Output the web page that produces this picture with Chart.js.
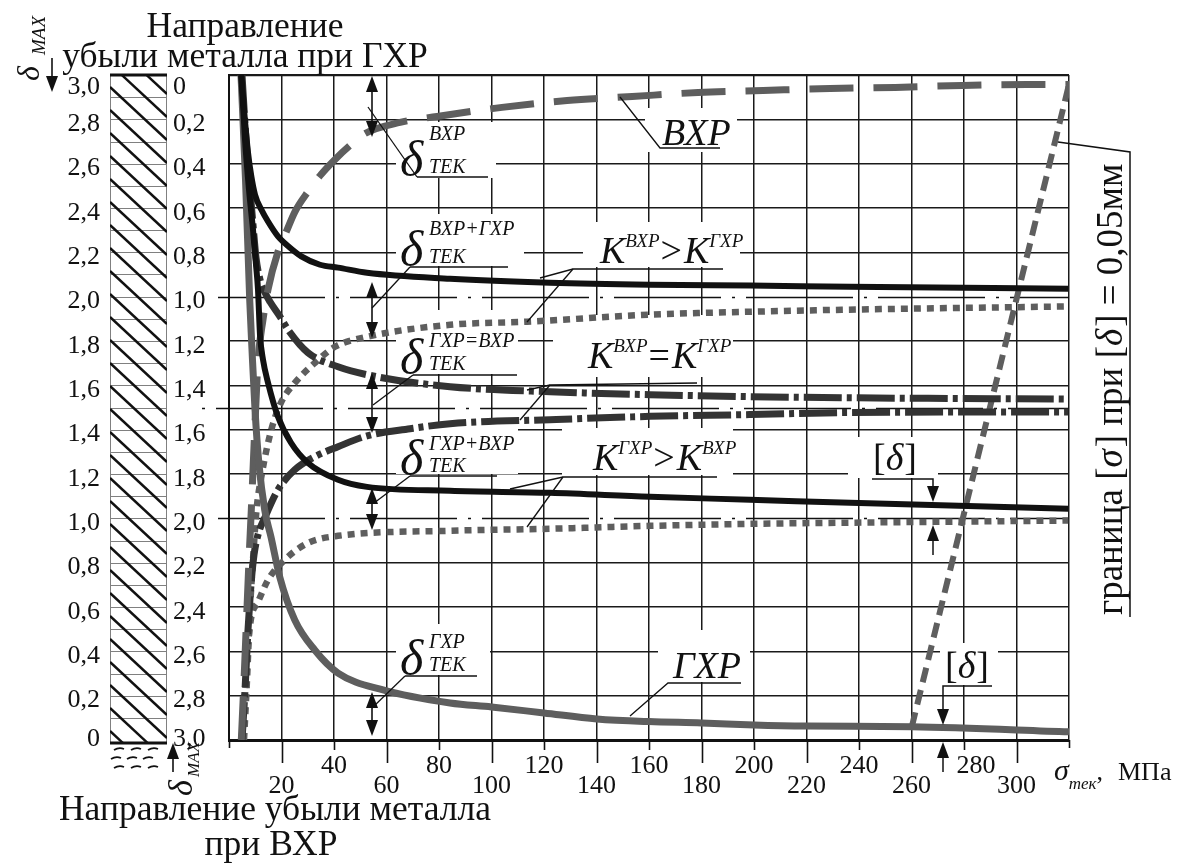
<!DOCTYPE html>
<html lang="ru">
<head>
<meta charset="utf-8">
<title>δ ТЕК</title>
<script src="https://cdn.jsdelivr.net/npm/chart.js@4.4.1/dist/chart.umd.min.js"></script>
<style>
html,body{margin:0;padding:0;background:#fff;overflow:hidden;}
#wrap{position:relative;width:1182px;height:863px;}
canvas{display:block;}
</style>
</head>
<body>
<div id="wrap"><canvas id="chart" width="1182" height="863"></canvas></div>
<script>
// ---------------- data ----------------
const xTickValues = [20,40,60,80,100,120,140,160,180,200,220,240,260,280,300];
const xTickLabels = ['20','40','60','80','100','120','140','160','180','200','220','240','260','280','300'];
const yTickValues = [0,0.2,0.4,0.6,0.8,1.0,1.2,1.4,1.6,1.8,2.0,2.2,2.4,2.6,2.8,3.0];
const yTickLabelsLeft = ['0','0,2','0,4','0,6','0,8','1,0','1,2','1,4','1,6','1,8','2,0','2,2','2,4','2,6','2,8','3,0'];
const yTickLabelsRight = ['3,0','2,8','2,6','2,4','2,2','2,0','1,8','1,6','1,4','1,2','1,0','0,8','0,6','0,4','0,2','0'];

// ВХР (gray dashed)
const sigmaVXR = [4.69,5.72,6.67,7.62,8.50,9.72,11.05,12.95,14.86,18.67,21.83,25.15,30.10,35.06,40.39,46.10,51.82,65.16,79.26,104.0,128.8,153.6,178.7,203.5,229.0,253.8,279.3,304.1,320];
const deltaVXR = [0,0.271,0.542,0.813,1.038,1.377,1.707,1.896,2.032,2.203,2.293,2.384,2.474,2.551,2.619,2.682,2.736,2.786,2.813,2.854,2.885,2.903,2.921,2.930,2.939,2.944,2.953,2.957,2.957];

// ГХР (gray solid)
const sigmaGXR = [4.57,6.29,7.89,8.76,9.91,11.43,13.60,16.00,19.32,25.03,32.65,41.53,58.68,84.21,100,120,140.1,160,180.1,200,220.2,260.1,320];
const deltaGXR = [3.0,2.528,1.986,1.761,1.490,1.242,1.038,0.916,0.736,0.542,0.406,0.302,0.226,0.167,0.149,0.122,0.095,0.083,0.077,0.068,0.063,0.060,0.037];

// δ ТЕК ВХР+ГХР, K(ВХР) > K(ГХР) (black, upper)
const sigmaBlackUpper = [4.69,5.72,7.24,8.50,9.91,12.31,14.86,18.67,23.24,27.55,34.67,41.53,52.58,84.21,122.3,160.4,198.5,236.6,319.7];
const deltaBlackUpper = [3.0,2.844,2.650,2.543,2.460,2.393,2.339,2.272,2.221,2.182,2.144,2.131,2.108,2.081,2.063,2.054,2.050,2.045,2.036];

// δ ТЕК ГХР+ВХР, K(ГХР) > K(ВХР) (black, lower)
const sigmaBlackLower = [4.69,6.10,7.62,9.14,10.29,11.05,11.81,12.95,14.86,18.67,23.62,30.10,41.53,52.58,84.21,122.3,160.4,198.5,236.6,319.7];
const deltaBlackLower = [3.0,2.709,2.483,2.302,2.144,2.032,1.828,1.716,1.612,1.458,1.341,1.250,1.174,1.142,1.124,1.115,1.097,1.084,1.070,1.043];

// K(ВХР) = K(ГХР) (dash-dot, upper / lower)
const sigmaDashDotUpper = [4.95,6.48,8.00,9.14,10.29,11.81,13.72,15.62,19.43,22.48,30.10,41.53,56.28,84.21,122.3,160.4,198.5,233.9,319.7];
const deltaDashDotUpper = [3.0,2.709,2.483,2.325,2.176,2.077,2.018,1.977,1.910,1.851,1.747,1.684,1.639,1.594,1.571,1.558,1.549,1.544,1.538];
const sigmaDashDotLower = [4.95,6.10,7.24,8.38,9.53,11.05,13.60,18.67,25.03,32.65,41.53,52.58,68.97,84.21,122.3,160.4,198.5,233.9,319.7];
const deltaDashDotLower = [0,0.226,0.497,0.700,0.835,0.926,1.002,1.129,1.219,1.278,1.323,1.372,1.404,1.427,1.445,1.460,1.468,1.477,1.480];

// dotted curves (upper / lower)
const sigmaDotUpper = [5.72,6.86,8.00,9.14,10.48,12.31,16.12,19.81,25.15,32.77,40.39,52.58,84.21,113.5,160.4,198.5,233.9,319.7];
const deltaDotUpper = [0,0.271,0.587,0.813,1.038,1.187,1.400,1.522,1.612,1.702,1.774,1.819,1.873,1.887,1.919,1.932,1.941,1.956];
const sigmaDotLower = [5.14,6.10,7.24,8.50,11.05,14.86,21.22,30.10,41.53,84.21,122.3,160.4,198.5,233.9,319.7];
const deltaDotLower = [0,0.226,0.429,0.555,0.623,0.722,0.813,0.889,0.921,0.944,0.953,0.966,0.975,0.980,0.990];

// граница [σ] при [δ] = 0,05 мм
const sigmaBoundary = [260.1,320];
const deltaBoundary = [0.059,2.957];

// ---------------- drawing helpers ----------------
const FONT = "'Liberation Serif','Times New Roman',serif";
const INK = '#111';
const GRAY = '#5e5e5e';
const DARK = '#333';
function setFont(ctx, size, italic){ ctx.font = (italic ? 'italic ' : '') + size + 'px ' + FONT; }
function seg(ctx, pts, w){
  ctx.beginPath(); ctx.lineWidth = w || 1.4;
  ctx.moveTo(pts[0][0], pts[0][1]);
  for (let i = 1; i < pts.length; i++) ctx.lineTo(pts[i][0], pts[i][1]);
  ctx.stroke();
}
function head(ctx, x, y, dir){ // dir -1: points up, +1: points down
  const L = 16, W = 6;
  ctx.beginPath(); ctx.moveTo(x, y); ctx.lineTo(x - W, y - dir*L); ctx.lineTo(x + W, y - dir*L); ctx.closePath(); ctx.fill();
}
function dbl(ctx, x, y1, y2){
  seg(ctx, [[x, y1 + 10],[x, y2 - 10]], 1.6);
  head(ctx, x, y1, -1); head(ctx, x, y2, 1);
}
function runs(ctx, x, y, list){
  let cx = x;
  for (const r of list){
    setFont(ctx, r.s, r.it);
    ctx.fillText(r.t, cx, y + (r.dy || 0));
    cx += ctx.measureText(r.t).width + (r.gap || 0);
  }
  return cx;
}
function deltaLabel(ctx, L){
  ctx.textAlign = 'left'; ctx.textBaseline = 'alphabetic';
  setFont(ctx, 50, true); ctx.fillText('δ', 400, L.ul - 1);
  setFont(ctx, 20, true); ctx.fillText(L.sup, 429, L.supB); ctx.fillText('ТЕК', 429, L.subB);
}

const deltaLabels = [
  {sup:'ВХР', supB:140, subB:173, ul:177, ulx:[417,488], lead:[[368,107],[417,177]]},
  {sup:'ВХР+ГХР', supB:235, subB:263, ul:267, ulx:[410,508], lead:[[372,308],[410,267]]},
  {sup:'ГХР=ВХР', supB:347, subB:370, ul:375, ulx:[413,517], lead:[[373,405],[413,375]]},
  {sup:'ГХР+ВХР', supB:450, subB:472, ul:476, ulx:[410,497], lead:[[374,503],[410,476]]},
  {sup:'ГХР', supB:648, subB:671, ul:676, ulx:[405,477], lead:[[372,708],[405,676]]}
];
const whiteBoxes = [
  [396,122,100,56],[645,108,92,44],[396,214,128,52],[583,222,157,45],
  [396,310,122,64],[553,315,180,62],[396,424,122,50],[562,428,171,47],
  [396,624,94,51],[658,630,92,52],[848,437,90,41],[940,643,58,42]
];

const deco = {
  id: 'deco',
  beforeDatasetsDraw(chart){
    const ctx = chart.ctx, ys = chart.scales.y, xs = chart.scales.x;
    ctx.save();
    ctx.fillStyle = '#fff';
    whiteBoxes.forEach(b => ctx.fillRect(b[0], b[1], b[2], b[3]));
    // dash-dot reference lines
    ctx.strokeStyle = INK; ctx.lineWidth = 1.5;
    const right = xs.getPixelForValue(320);
    ctx.setLineDash([107,11,3,11]);
    [2.0, 1.0].forEach(v => { const y = Math.round(ys.getPixelForValue(v)) + 0.5; seg(ctx, [[218,y],[right,y]], 1.5); });
    ctx.setLineDash([3,11,107,11]);
    { const y = Math.round(ys.getPixelForValue(1.5)) + 0.5; seg(ctx, [[202,y],[right,y]], 1.5); }
    ctx.setLineDash([]);
    // text labels inside plot
    ctx.fillStyle = INK;
    deltaLabels.forEach(L => deltaLabel(ctx, L));
    ctx.textAlign = 'left'; ctx.textBaseline = 'alphabetic';
    const K = (t) => ({t, s:38, it:true});
    const S = (t) => ({t, s:19, it:true, dy:-16, gap:1});
    const O = (t) => ({t, s:38, it:false, gap:2});
    runs(ctx, 600, 263, [K('К'), S('ВХР'), O('>'), K('К'), S('ГХР')]);
    runs(ctx, 588, 368, [K('К'), S('ВХР'), O('='), K('К'), S('ГХР')]);
    runs(ctx, 593, 470, [K('К'), S('ГХР'), O('>'), K('К'), S('ВХР')]);
    setFont(ctx, 38, true); ctx.fillText('ВХР', 662, 145); ctx.fillText('ГХР', 673, 678);
    runs(ctx, 873, 470, [{t:'[', s:38}, {t:'δ', s:38, it:true, gap:1}, {t:']', s:38}]);
    runs(ctx, 945, 678, [{t:'[', s:38}, {t:'δ', s:38, it:true, gap:1}, {t:']', s:38}]);
    ctx.restore();
  },
  afterDatasetsDraw(chart){
    const ctx = chart.ctx;
    ctx.save();
    ctx.strokeStyle = INK; ctx.fillStyle = INK; ctx.lineCap = 'butt';
    // δ label underlines and leaders
    deltaLabels.forEach(L => {
      seg(ctx, [[L.ulx[0], L.ul],[L.ulx[1], L.ul]], 1.3);
      seg(ctx, L.lead, 1.3);
    });
    // double arrows
    dbl(ctx, 372, 76, 137);
    dbl(ctx, 372, 282, 338);
    dbl(ctx, 372, 373, 433);
    dbl(ctx, 372, 488, 530);
    dbl(ctx, 372, 692, 736);
    // K labels underlines & leaders
    seg(ctx, [[723,269],[573,269],[540,278]], 1.3); seg(ctx, [[573,269],[527,322]], 1.3);
    seg(ctx, [[697,383],[550,385],[527,390]], 1.3); seg(ctx, [[550,385],[520,420]], 1.3);
    seg(ctx, [[717,477],[563,477],[510,489]], 1.3); seg(ctx, [[563,477],[527,527]], 1.3);
    // ВХР / ГХР labels
    seg(ctx, [[720,148],[660,148],[620,97]], 1.3);
    seg(ctx, [[741,683],[668,683],[630,716]], 1.3);
    // [δ] upper
    seg(ctx, [[872,479],[933,479],[933,492]], 1.5); head(ctx, 933, 502, 1);
    seg(ctx, [[933,535],[933,555]], 1.5); head(ctx, 933, 525, -1);
    // [δ] lower
    seg(ctx, [[992,686],[943,686],[943,712]], 1.5); head(ctx, 943, 725, 1);
    seg(ctx, [[943,752],[943,772]], 1.5); head(ctx, 943, 742, -1);
    ctx.restore();
  },
  afterDraw(chart){
    const ctx = chart.ctx, xs = chart.scales.x, ys = chart.scales.y;
    const X = v => xs.getPixelForValue(v), Y = v => ys.getPixelForValue(v);
    ctx.save();
    ctx.fillStyle = INK; ctx.strokeStyle = INK;
    // x tick marks
    for (let v = 0; v <= 320; v += 20){
      let len = 8;
      if (v > 0 && v < 320) len = (v % 40 === 0) ? 10 : 23;
      const x = Math.round(X(v)) + 0.5;
      seg(ctx, [[x, 740],[x, 740 + len]], 1.6);
    }
    // x tick labels (staggered)
    setFont(ctx, 26, false); ctx.textAlign = 'center'; ctx.textBaseline = 'alphabetic';
    xTickValues.forEach((v, i) => {
      const up = v % 40 === 0;
      const shift = v === 280 ? 12 : 0;
      ctx.fillText(xTickLabels[i], X(v) + shift, up ? 773 : 793);
    });
    // axis title σ тек, МПа
    ctx.textAlign = 'left';
    let cx = runs(ctx, 1054, 780, [{t:'σ', s:30, it:true, gap:0}]);
    cx = runs(ctx, cx, 789, [{t:'тек', s:17, it:true}]);
    runs(ctx, cx, 780, [{t:',', s:26}]);
    setFont(ctx, 26, false); ctx.fillText('МПа', 1118, 780);
    // y tick labels
    ctx.textBaseline = 'middle';
    yTickValues.forEach((v, i) => {
      const off = v > 2.99 ? 12 : (v < 0.01 ? -1 : 5);
      ctx.textAlign = 'right'; ctx.fillText(yTickLabelsLeft[i], 100, Y(v) + off);
      ctx.textAlign = 'left'; ctx.fillText(yTickLabelsRight[i], 173, Y(v) + off);
    });
    // hatched column
    const cL = 110, cR = 167, cT = Y(3), cB = Y(0) + 3;
    ctx.strokeStyle = '#808080';
    for (let k = 1; k < 30; k++){ const y = Math.round(Y(k/10)) + 0.5; seg(ctx, [[cL, y],[cR, y]], 1); }
    seg(ctx, [[cL+0.5, cT],[cL+0.5, cB]], 1); seg(ctx, [[cR-0.5, cT],[cR-0.5, cB]], 1);
    ctx.save();
    ctx.beginPath(); ctx.rect(cL, cT, cR - cL, cB - cT); ctx.clip();
    ctx.strokeStyle = INK;
    const slope = 0.93;
    for (let c = cT - 80; c < cB + 10; c += 23){
      seg(ctx, [[cL, c],[cR, c + (cR - cL) * slope]], 2.4);
    }
    ctx.restore();
    ctx.strokeStyle = INK;
    seg(ctx, [[cL, cT],[cR, cT]], 3);
    seg(ctx, [[cL, cB],[cR, cB]], 3);
    // liquid marks below column
    ctx.lineWidth = 1.8;
    [[749,[114,131,148]],[758,[111,127,143]],[767,[114,131,148]]].forEach(r => {
      r[1].forEach(x0 => { ctx.beginPath(); ctx.moveTo(x0, r[0]+1); ctx.quadraticCurveTo(x0+5, r[0]-2, x0+10, r[0]); ctx.stroke(); });
    });
    // titles
    setFont(ctx, 35.5, false); ctx.textAlign = 'center'; ctx.textBaseline = 'alphabetic';
    ctx.fillText('Направление', 245, 37);
    ctx.fillText('убыли металла при ГХР', 245, 67);
    ctx.fillText('Направление убыли металла', 275, 820);
    ctx.fillText('при ВХР', 271, 855);
    // δ MAX markers
    ctx.textAlign = 'left';
    ctx.save(); ctx.translate(39, 81); ctx.rotate(-Math.PI/2);
    setFont(ctx, 32, true); ctx.fillText('δ', 0, 0);
    setFont(ctx, 19, true); ctx.fillText('MAX', 26, 6);
    ctx.restore();
    seg(ctx, [[52, 58],[52, 78]], 1.6); head(ctx, 52, 92, 1);
    ctx.save(); ctx.translate(192, 796); ctx.rotate(-Math.PI/2);
    setFont(ctx, 34, true); ctx.fillText('δ', 0, 0);
    setFont(ctx, 17, true); ctx.fillText('MAX', 19, 7);
    ctx.restore();
    seg(ctx, [[173, 755],[173, 772]], 1.6); head(ctx, 173, 743, -1);
    // right rotated annotation
    ctx.save(); ctx.translate(1122, 615); ctx.rotate(-Math.PI/2);
    runs(ctx, 0, 0, [{t:'граница [', s:37},{t:'σ', s:37, it:true, gap:2},{t:'] при [', s:37},{t:'δ', s:37, it:true, gap:2},{t:'] = 0,05мм', s:37}]);
    ctx.restore();
    seg(ctx, [[1130, 617],[1130, 152],[1058, 142]], 1.5);
    ctx.restore();
  }
};

const mk = (sx, sy) => sx.map((v, i) => ({x: v, y: sy[i]}));
const line = (label, sx, sy, color, width, dash, mono) => ({
  label, data: mk(sx, sy), borderColor: color, borderWidth: width, borderDash: dash || [],
  pointRadius: 0, fill: false, tension: 0, cubicInterpolationMode: mono === false ? 'default' : 'monotone',
  borderCapStyle: 'butt', borderJoinStyle: 'round'
});

new Chart(document.getElementById('chart'), {
  type: 'line',
  data: {
    datasets: [
      line('δ ТЕК ВХР+ГХР', sigmaBlackUpper, deltaBlackUpper, INK, 6),
      line('δ ТЕК ГХР+ВХР', sigmaBlackLower, deltaBlackLower, INK, 6),
      line('ГХР', sigmaGXR, deltaGXR, GRAY, 7),
      line('ВХР', sigmaVXR, deltaVXR, GRAY, 7, [44, 20]),
      line('K ВХР = K ГХР (верх)', sigmaDashDotUpper, deltaDashDotUpper, DARK, 7, [38, 5, 5, 5]),
      line('K ВХР = K ГХР (низ)', sigmaDashDotLower, deltaDashDotLower, DARK, 7, [38, 5, 5, 5]),
      line('ВХР+ГХР пунктир', sigmaDotUpper, deltaDotUpper, GRAY, 6.5, [7, 6]),
      line('ГХР+ВХР пунктир', sigmaDotLower, deltaDotLower, GRAY, 6.5, [7, 6]),
      line('граница', sigmaBoundary, deltaBoundary, GRAY, 6, [15, 8], false)
    ]
  },
  options: {
    responsive: false, animation: false, devicePixelRatio: 1,
    layout: {padding: {left: 229, right: 113, top: 75, bottom: 123}},
    plugins: {legend: {display: false}, tooltip: {enabled: false}},
    scales: {
      x: {
        type: 'linear', min: 0, max: 320,
        ticks: {stepSize: 20, display: false},
        grid: {color: '#1a1a1a', lineWidth: 1.5, drawTicks: false},
        border: {color: INK, width: 3},
        afterFit: s => { s.height = 0; }
      },
      y: {
        type: 'linear', min: 0, max: 3,
        ticks: {stepSize: 0.2, display: false},
        grid: {
          color: c => (c.tick && (Math.abs(c.tick.value - 1) < 1e-6 || Math.abs(c.tick.value - 2) < 1e-6)) ? 'rgba(0,0,0,0)' : '#1a1a1a',
          lineWidth: c => (c.tick && c.tick.value > 2.99) ? 2.2 : 1.5,
          drawTicks: false
        },
        border: {color: INK, width: 2},
        afterFit: s => { s.width = 0; }
      }
    }
  },
  plugins: [deco]
});
</script>
</body>
</html>
